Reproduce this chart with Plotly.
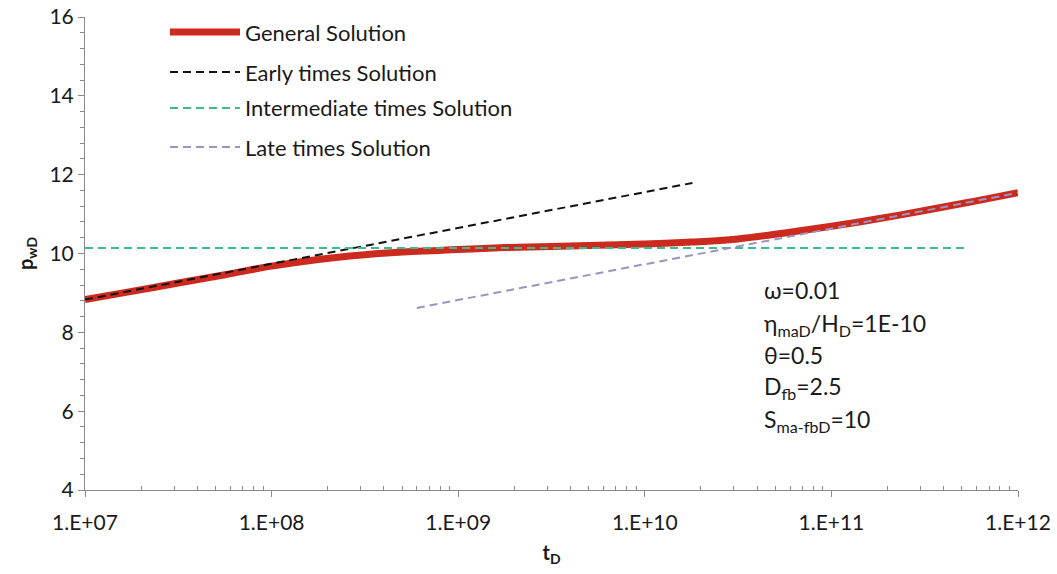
import plotly.graph_objects as go

# General solution (dimensionless time vs. wellbore pressure)
t_general = [1.0e7, 1.78e7, 3.16e7, 5.62e7, 1.0e8, 1.78e8, 3.16e8, 5.62e8,
             1.0e9, 1.78e9, 3.16e9, 5.62e9, 1.0e10, 1.78e10, 3.16e10, 5.62e10,
             1.0e11, 1.78e11, 3.16e11, 5.62e11, 1.0e12]
p_general = [8.83, 9.04, 9.25, 9.46, 9.68, 9.85, 9.97, 10.05,
             10.10, 10.15, 10.18, 10.21, 10.24, 10.29, 10.37, 10.52,
             10.69, 10.88, 11.09, 11.31, 11.54]

# Asymptotic solutions
t_early = [1.0e7, 1.8e10]
p_early = [8.83, 11.79]

t_inter = [1.0e7, 5.4e11]
p_inter = [10.14, 10.14]

t_late = [6.0e8, 1.0e12]
p_late = [8.62, 11.54]

x_tickvals = [1e7, 1e8, 1e9, 1e10, 1e11, 1e12]
x_ticktext = ["1.E+07", "1.E+08", "1.E+09", "1.E+10", "1.E+11", "1.E+12"]

legend_names = ["General Solution", "Early times Solution",
                "Intermediate times Solution", "Late times Solution"]

params_text = ["ω=0.01",
               "η<sub>maD</sub>/H<sub>D</sub>=1E-10",
               "θ=0.5",
               "D<sub>fb</sub>=2.5",
               "S<sub>ma-fbD</sub>=10"]

RED = "#cc2a1e"
BLACK = "#111111"
GREEN = "#3dbb8c"
LAVENDER = "#9d93bf"
FONT = "Lato, 'Open Sans', sans-serif"
AXIS = "#8a8a8a"
TEXT = "#1a1a1a"

fig = go.Figure()
fig.add_trace(go.Scatter(x=t_general, y=p_general, mode="lines",
                         line=dict(color=RED, width=7, shape="spline"),
                         name=legend_names[0], showlegend=False))
fig.add_trace(go.Scatter(x=t_early, y=p_early, mode="lines",
                         line=dict(color=BLACK, width=2, dash="8px,5px"),
                         name=legend_names[1], showlegend=False))
fig.add_trace(go.Scatter(x=t_inter, y=p_inter, mode="lines",
                         line=dict(color=GREEN, width=2, dash="8px,5px"),
                         name=legend_names[2], showlegend=False))
fig.add_trace(go.Scatter(x=t_late, y=p_late, mode="lines",
                         line=dict(color=LAVENDER, width=2, dash="8px,5px"),
                         name=legend_names[3], showlegend=False))

# Plot-area geometry, used to place the legend and parameter notes
W, H = 1057, 574
ml, mr, mt, mb = 85, 39, 17, 84
pw, ph = W - ml - mr, H - mt - mb


def px_to_paper(x, y):
    return (x - ml) / pw, 1 - (y - mt) / ph


legend_styles = [(RED, 7, "solid"), (BLACK, 2, "8px,5px"),
                 (GREEN, 2, "8px,5px"), (LAVENDER, 2, "8px,5px")]
legend_rows = [32, 72, 108, 147]
for name, (col, wd, ds), yrow in zip(legend_names, legend_styles, legend_rows):
    x0, yy = px_to_paper(170, yrow)
    x1, _ = px_to_paper(240, yrow)
    fig.add_shape(type="line", xref="paper", yref="paper",
                  x0=x0, x1=x1, y0=yy, y1=yy,
                  line=dict(color=col, width=wd, dash=ds))
    tx, _ = px_to_paper(243, yrow)
    fig.add_annotation(xref="paper", yref="paper", x=tx, y=yy, text=name,
                       showarrow=False, xanchor="left", yanchor="middle",
                       font=dict(family=FONT, size=22, color=TEXT))

param_rows = [290, 324, 355, 387, 420]
for txt, yrow in zip(params_text, param_rows):
    tx, ty = px_to_paper(762, yrow)
    fig.add_annotation(xref="paper", yref="paper", x=tx, y=ty, text=txt,
                       showarrow=False, xanchor="left", yanchor="middle",
                       font=dict(family=FONT, size=23, color=TEXT))

minor_x = [m * 10 ** d for d in range(7, 12) for m in range(2, 10)]

fig.update_layout(
    width=W, height=H,
    margin=dict(l=ml, r=mr, t=mt, b=mb),
    paper_bgcolor="white", plot_bgcolor="white",
    font=dict(family=FONT, size=21, color=TEXT),
    showlegend=False,
    xaxis=dict(type="log", range=[7, 12], tickvals=x_tickvals,
               ticktext=x_ticktext, showgrid=False, zeroline=False,
               automargin=False,
               showline=True, linecolor=AXIS, linewidth=1,
               ticks="outside", ticklen=6, tickcolor=AXIS,
               ticklabelstandoff=8,
               minor=dict(tickvals=minor_x, ticks="inside", ticklen=4,
                          tickcolor=AXIS, showgrid=False),
               tickfont=dict(size=21),
               title=dict(text="<b>t<sub>D</sub></b>", standoff=12,
                          font=dict(size=20))),
    yaxis=dict(range=[4, 16], dtick=2, showgrid=False, zeroline=False,
               automargin=False,
               showline=True, linecolor=AXIS, linewidth=1,
               ticks="outside", ticklen=6, tickcolor=AXIS,
               minor=dict(dtick=0.4, ticks="outside", ticklen=4,
                          tickcolor=AXIS, showgrid=False),
               tickfont=dict(size=21),
               title=dict(text="<b>p<sub>wD</sub></b>", standoff=10,
                          font=dict(size=20))),
)

fig.write_html("out.html")
